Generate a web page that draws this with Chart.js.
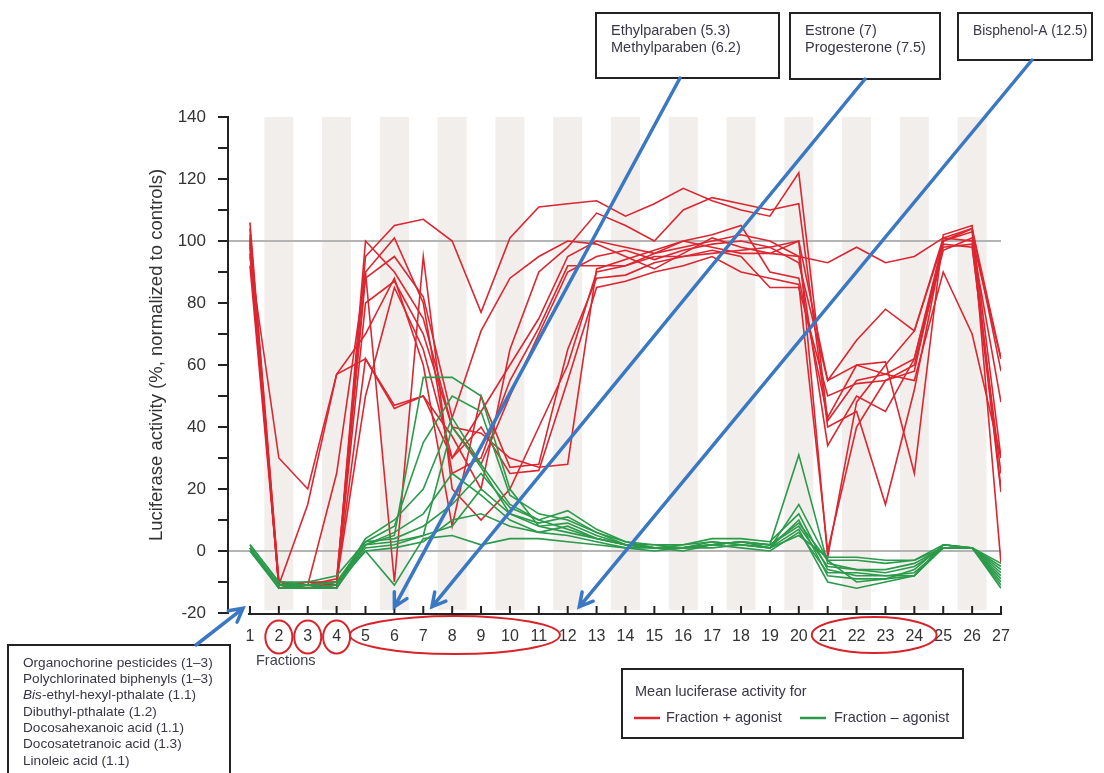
<!DOCTYPE html>
<html>
<head>
<meta charset="utf-8">
<script src="https://cdn.jsdelivr.net/npm/chart.js@4.4.1/dist/chart.umd.min.js"></script>
<style>
  html, body { margin: 0; padding: 0; background: #fff; }
</style>
</head>
<body>
<canvas id="chart" width="1104" height="773"></canvas>
<script>
// fractions on the x axis
const fractions = [1, 2, 3, 4, 5, 6, 7, 8, 9, 10, 11, 12, 13, 14, 15, 16, 17, 18, 19, 20, 21, 22, 23, 24, 25, 26, 27]
const yTickLabels = [-20, 0, 20, 40, 60, 80, 100, 120, 140]

// fraction + agonist (red)
const plus1 = [104, -10, -11, -10, 95, 105, 107, 100, 77, 101, 111, 112, 113, 108, 112, 117, 113, 110, 108, 122, 42, 55, 57, 62, 100, 104, 58]
const plus2 = [95, 30, 20, 57, 62, 47, 50, 30, 45, 60, 75, 95, 100, 98, 96, 98, 100, 102, 100, 95, 93, 98, 93, 95, 101, 104, 62]
const plus3 = [100, -11, -12, -11, 100, 90, 75, 40, 28, 50, 70, 90, 95, 97, 94, 97, 99, 100, 98, 100, -2, 48, 60, 71, 100, 103, 20]
const plus4 = [98, -10, -11, 25, 90, 101, 80, 25, 30, 55, 72, 92, 92, 92, 95, 95, 96, 97, 98, 93, 55, 68, 78, 71, 101, 100, 48]
const plus5 = [102, -12, -10, -10, 62, 46, 50, 37, 20, 65, 90, 98, 109, 105, 100, 110, 114, 112, 110, 112, 40, 45, 15, 52, 99, 98, 25]
const plus6 = [96, -11, -11, -9, 88, 95, 82, 43, 71, 88, 95, 100, 99, 95, 91, 96, 101, 98, 96, 95, 34, 50, 45, 62, 98, 99, 19]
const plus7 = [101, -12, -11, -12, 90, -10, 95, 20, 10, 20, 40, 60, 90, 92, 96, 100, 102, 105, 90, 88, 43, 60, 61, 25, 102, 105, -4]
const plus8 = [92, -11, 15, 57, 70, 88, 60, 8, 50, 27, 28, 65, 88, 89, 93, 95, 97, 95, 85, 85, 50, 54, 55, 60, 97, 101, 62]
const plus9 = [106, -10, -12, -10, 50, 85, 65, 30, 40, 25, 26, 55, 85, 87, 90, 92, 95, 90, 88, 86, 0, 40, 55, 58, 100, 104, 30]
const plus10 = [99, -11, -10, -11, 80, 87, 70, 40, 38, 30, 27, 28, 91, 94, 97, 100, 98, 96, 96, 100, 55, 60, 57, 55, 90, 70, 30]

// fraction - agonist (green)
const minus1 = [1, -11, -12, -12, 2, 5, 56, 56, 50, 20, 8, 6, 4, 2, 1, 1, 2, 3, 2, 31, -4, -6, -7, -5, 1, 1, -5]
const minus2 = [2, -10, -11, -10, 3, 8, 35, 50, 45, 18, 12, 10, 6, 3, 2, 2, 3, 2, 1, 15, -3, -3, -4, -3, 2, 1, -8]
const minus3 = [1, -12, -12, -11, 4, 10, 20, 43, 28, 15, 10, 13, 7, 3, 1, 2, 4, 4, 3, 12, -6, -8, -8, -7, 1, 1, -10]
const minus4 = [0, -12, -11, -12, 1, 2, 5, 40, 27, 12, 8, 9, 5, 2, 1, 1, 3, 2, 1, 10, -8, -9, -9, -8, 2, 1, -12]
const minus5 = [1, -11, -12, -11, 2, 6, 12, 25, 18, 10, 6, 8, 4, 2, 1, 0, 2, 3, 2, 8, -5, -6, -6, -4, 1, 1, -7]
const minus6 = [2, -10, -10, -8, 3, 4, 8, 15, 25, 14, 10, 7, 4, 2, 2, 1, 2, 3, 1, 5, -2, -2, -3, -3, 1, 1, -6]
const minus7 = [1, -12, -12, -11, 0, 1, 3, 10, 12, 8, 6, 5, 3, 1, 0, 1, 1, 2, 1, 7, -10, -12, -10, -8, 2, 1, -9]
const minus8 = [0, -11, -11, -10, 0, -11, 4, 5, 2, 4, 4, 3, 2, 1, 1, 1, 2, 1, 0, 6, -7, -7, -8, -8, 1, 1, -11]
const minus9 = [1, -11, -11, -10, 2, 3, 5, 8, 20, 12, 9, 11, 6, 2, 1, 1, 2, 3, 2, 9, -3, -10, -9, -6, 2, 1, -4]

const plusSeries = [plus1, plus2, plus3, plus4, plus5, plus6, plus7, plus8, plus9, plus10]
const minusSeries = [minus1, minus2, minus3, minus4, minus5, minus6, minus7, minus8, minus9]

const RED = '#dc2630'
const GREEN = '#2b9a4a'
const BLUE = '#3b78c3'
const INK = '#333'
const FAMILY = '"Liberation Sans", Arial, sans-serif'

const toPoints = vals => vals.map((v, i) => ({ x: fractions[i], y: v }))

const lineSet = (vals, color) => ({
  data: toPoints(vals),
  borderColor: color,
  borderWidth: 1.6,
  pointRadius: 0,
  tension: 0,
  fill: false
})

// green drawn on top of red
const datasets = [
  ...minusSeries.map(v => lineSet(v, GREEN)),
  ...plusSeries.map(v => lineSet(v, RED))
]

function arrow(ctx, x0, y0, x1, y1) {
  const a = Math.atan2(y1 - y0, x1 - x0), h = 15
  ctx.beginPath()
  ctx.moveTo(x0, y0)
  ctx.lineTo(x1, y1)
  ctx.moveTo(x1 - h * Math.cos(a - 0.5), y1 - h * Math.sin(a - 0.5))
  ctx.lineTo(x1, y1)
  ctx.lineTo(x1 - h * Math.cos(a + 0.5), y1 - h * Math.sin(a + 0.5))
  ctx.stroke()
}

function box(ctx, l, t, w, h, lines, size, lineGap) {
  ctx.fillStyle = '#fff'
  ctx.fillRect(l, t, w, h)
  ctx.lineWidth = 2
  ctx.strokeStyle = '#222'
  ctx.strokeRect(l, t, w, h)
  ctx.fillStyle = '#3a3646'
  ctx.textBaseline = 'middle'
  ctx.textAlign = 'left'
  lines.forEach((ln, i) => {
    ctx.font = (ln.italic ? 'italic ' : '') + size + 'px ' + FAMILY
    let x = l + 15
    if (ln.italic) {
      ctx.fillText(ln.italic, x, t + 18 + i * lineGap)
      x += ctx.measureText(ln.italic).width
      ctx.font = size + 'px ' + FAMILY
    }
    ctx.fillText(ln.text, x, t + 18 + i * lineGap)
  })
}

const decorations = {
  id: 'decorations',
  beforeDraw(chart) {
    const { ctx, scales: { x, y } } = chart
    ctx.save()
    ctx.fillStyle = '#f1eeec'
    const top = y.getPixelForValue(140), bottom = y.getPixelForValue(-19)
    fractions.filter(f => f % 2 === 0).forEach(f => {
      const l = x.getPixelForValue(f - 0.5), r = x.getPixelForValue(f + 0.5)
      ctx.fillRect(l, top, r - l, bottom - top)
    })
    ctx.restore()
  },
  afterDraw(chart) {
    const { ctx, scales: { x, y } } = chart
    ctx.save()

    // detached x axis with inward ticks
    const axisY = y.getPixelForValue(-20) + 1
    ctx.strokeStyle = '#222'
    ctx.lineWidth = 2
    ctx.beginPath()
    ctx.moveTo(x.getPixelForValue(1) - 2, axisY)
    ctx.lineTo(x.getPixelForValue(27) + 1, axisY)
    fractions.forEach(f => {
      const px = x.getPixelForValue(f)
      ctx.moveTo(px, axisY)
      ctx.lineTo(px, axisY - 8)
    })
    ctx.stroke()

    ctx.fillStyle = '#3d4250'
    ctx.font = '14.5px ' + FAMILY
    ctx.textAlign = 'left'
    ctx.textBaseline = 'middle'
    ctx.fillText('Fractions', x.getPixelForValue(1) + 6, axisY + 47)

    // red rings around the active fractions
    const labelY = axisY + 23
    ctx.strokeStyle = '#d8232a'
    ctx.lineWidth = 2
    ;[2, 3, 4].forEach(f => {
      ctx.beginPath()
      ctx.ellipse(x.getPixelForValue(f), labelY, 13.5, 16.5, 0, 0, Math.PI * 2)
      ctx.stroke()
    })
    ;[[4.46, 11.73, 19], [20.45, 24.77, 18]].forEach(([a, b, ry]) => {
      const xa = x.getPixelForValue(a), xb = x.getPixelForValue(b)
      ctx.beginPath()
      ctx.ellipse((xa + xb) / 2, labelY - 2, (xb - xa) / 2, ry, 0, 0, Math.PI * 2)
      ctx.stroke()
    })

    // compound boxes
    box(ctx, 596, 13, 183, 65, [{ text: 'Ethylparaben (5.3)' }, { text: 'Methylparaben (6.2)' }], 14.5, 17)
    box(ctx, 790, 13, 150, 66, [{ text: 'Estrone (7)' }, { text: 'Progesterone (7.5)' }], 14.5, 17)
    box(ctx, 958, 13, 134, 47, [{ text: 'Bisphenol-A (12.5)' }], 13.8, 17)
    box(ctx, 8, 645, 222, 140, [
      { text: 'Organochorine pesticides (1\u20133)' },
      { text: 'Polychlorinated biphenyls (1\u20133)' },
      { italic: 'Bis', text: '-ethyl-hexyl-pthalate (1.1)' },
      { text: 'Dibuthyl-pthalate (1.2)' },
      { text: 'Docosahexanoic acid (1.1)' },
      { text: 'Docosatetranoic acid (1.3)' },
      { text: 'Linoleic acid (1.1)' }
    ], 13.6, 16.3)

    // pointers to the eluting fractions
    ctx.strokeStyle = BLUE
    ctx.lineWidth = 3.5
    ctx.lineCap = 'round'
    const tipY = y.getPixelForValue(-18)
    arrow(ctx, 680, 78, x.getPixelForValue(6), tipY)
    arrow(ctx, 865, 79, x.getPixelForValue(7.3), tipY)
    arrow(ctx, 1032, 60, x.getPixelForValue(12.4), tipY)
    arrow(ctx, 196, 645, x.getPixelForValue(0.76), y.getPixelForValue(-18.5))

    // legend
    ctx.lineCap = 'butt'
    ctx.fillStyle = '#fff'
    ctx.fillRect(622, 669, 341, 69)
    ctx.strokeStyle = '#222'
    ctx.lineWidth = 2
    ctx.strokeRect(622, 669, 341, 69)
    ctx.fillStyle = '#3a3646'
    ctx.font = '14.5px ' + FAMILY
    ctx.textBaseline = 'middle'
    ctx.fillText('Mean luciferase activity for', 635, 692)
    ctx.lineWidth = 2.5
    ctx.strokeStyle = RED
    ctx.beginPath(); ctx.moveTo(634, 718); ctx.lineTo(660, 718); ctx.stroke()
    ctx.strokeStyle = GREEN
    ctx.beginPath(); ctx.moveTo(800, 718); ctx.lineTo(826, 718); ctx.stroke()
    ctx.fillText('Fraction + agonist', 666, 718)
    ctx.fillText('Fraction \u2013 agonist', 834, 718)

    // y axis title, set a little above the plot's vertical centre
    ctx.save()
    ctx.translate(157, 355)
    ctx.rotate(-Math.PI / 2)
    ctx.textAlign = 'center'
    ctx.fillStyle = INK
    ctx.font = '18.5px ' + FAMILY
    ctx.fillText('Luciferase activity (%, normalized to controls)', 0, 0)
    ctx.restore()

    ctx.restore()
  }
}

new Chart(document.getElementById('chart'), {
  type: 'line',
  data: { datasets: datasets },
  options: {
    responsive: false,
    devicePixelRatio: 1,
    animation: false,
    events: [],
    layout: { padding: { left: 140, top: 117, right: 103, bottom: 0 } },
    plugins: { legend: { display: false }, tooltip: { enabled: false } },
    scales: {
      x: {
        type: 'linear',
        min: 0.24,
        max: 27,
        afterBuildTicks: s => { s.ticks = fractions.map(v => ({ value: v })) },
        afterFit: s => { s.height = 160 },
        grid: { display: false, drawTicks: false },
        border: { display: false },
        ticks: {
          autoSkip: false,
          maxRotation: 0,
          padding: 14,
          color: INK,
          font: { size: 16, family: FAMILY }
        }
      },
      y: {
        min: -20,
        max: 140,
        afterFit: s => { s.width = 88 },
        ticks: {
          stepSize: 5,
          padding: 12,
          color: INK,
          font: { size: 17, family: FAMILY },
          callback: v => yTickLabels.includes(v) ? String(v) : ''
        },
        grid: {
          color: c => (c.tick && (c.tick.value === 0 || c.tick.value === 100)) ? '#b4b4b4' : 'rgba(0,0,0,0)',
          lineWidth: 2,
          tickColor: '#222',
          tickLength: 10,
          tickWidth: 2
        },
        border: { color: '#222', width: 2 }
      }
    }
  },
  plugins: [decorations]
})
</script>
</body>
</html>
